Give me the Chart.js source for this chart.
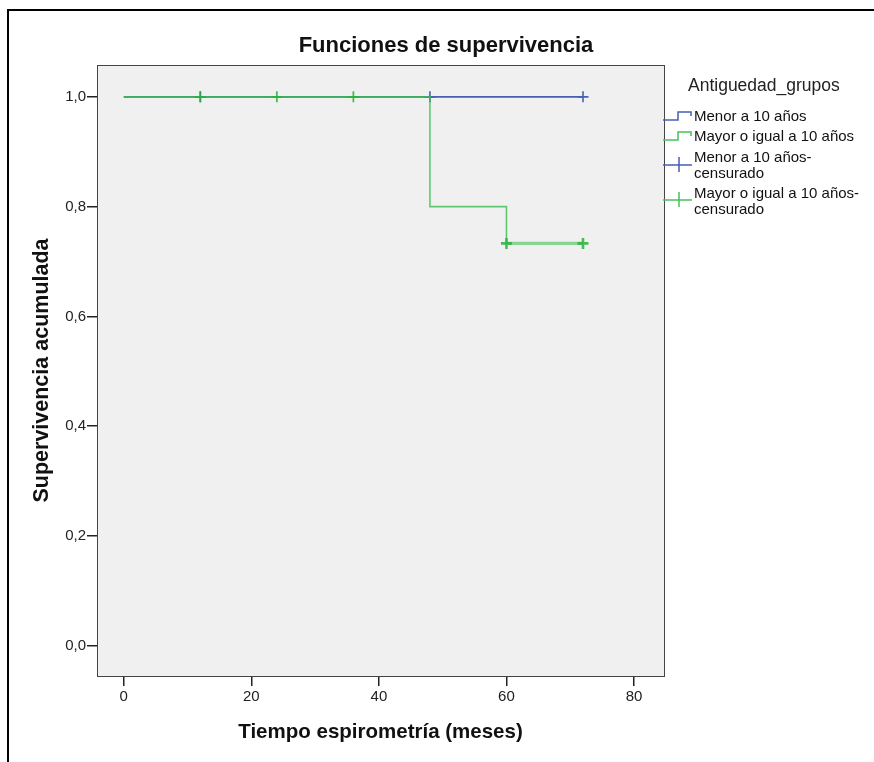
<!DOCTYPE html>
<html>
<head>
<meta charset="utf-8">
<script src="https://cdn.jsdelivr.net/npm/chart.js@4"></script>
<style>
  html, body { margin: 0; padding: 0; background: #fff; }
  #wrap { position: relative; width: 874px; height: 762px; overflow: hidden; }
  #frame { position: absolute; left: 7px; top: 9px; width: 900px; height: 800px;
           border-left: 2px solid #000; border-top: 2px solid #000; }
  canvas { position: absolute; left: 0; top: 0; }
</style>
</head>
<body>
<div id="wrap">
  <div id="frame"></div>
  <canvas id="km" width="874" height="762"></canvas>
</div>
<script>
// ticks
const xTicks = [0, 20, 40, 60, 80];
const yTicks = [0, 0.2, 0.4, 0.6, 0.8, 1.0];

// grupos
const grupos = ['Menor a 10 años', 'Mayor o igual a 10 años'];

// Menor a 10 años
const menorTiempos = [0, 72];
const menorSuperv  = [1.0, 1.0];
const menorCensT   = [12, 48, 72];
const menorCensS   = [1.0, 1.0, 1.0];

// Mayor o igual a 10 años
const mayorTiempos = [0, 48, 60, 72];
const mayorSuperv  = [1.0, 0.8, 0.733, 0.733];
const mayorCensT   = [12, 24, 36, 60, 72];
const mayorCensS   = [1.0, 1.0, 1.0, 0.733, 0.733];

const AZUL  = '#4a5eb2';
const VERDE = '#47c159';
const FONT  = "'Liberation Sans', Arial, sans-serif";

const pts = (xs, ys) => xs.map((x, i) => ({ x: x, y: ys[i] }));

// fondo gris + marco del área de trazado + título + leyenda
const decor = {
  id: 'decor',
  beforeDraw(chart) {
    const { ctx, chartArea: a } = chart;
    ctx.save();
    ctx.fillStyle = '#f0f0f0';
    ctx.fillRect(a.left, a.top, a.right - a.left, a.bottom - a.top);
    ctx.restore();
  },
  afterDraw(chart) {
    const { ctx, chartArea: a } = chart;
    ctx.save();
    ctx.strokeStyle = '#444';
    ctx.lineWidth = 1;
    ctx.strokeRect(a.left + 0.5, a.top + 0.5, a.right - a.left, a.bottom - a.top);

    ctx.fillStyle = '#111';
    ctx.textBaseline = 'middle';
    ctx.textAlign = 'center';
    ctx.font = 'bold 22px ' + FONT;
    ctx.fillText('Funciones de supervivencia', 446, 46);

    // leyenda
    ctx.textAlign = 'left';
    ctx.font = '17.5px ' + FONT;
    ctx.fillStyle = '#222';
    ctx.fillText('Antiguedad_grupos', 688, 86);

    ctx.lineWidth = 1.5;
    const step = (col, y) => {
      ctx.strokeStyle = col;
      ctx.beginPath();
      ctx.moveTo(663, y + 2);
      ctx.lineTo(678, y + 2);
      ctx.lineTo(678, y - 6);
      ctx.lineTo(691, y - 6);
      ctx.lineTo(691, y - 2);
      ctx.stroke();
    };
    const cruz = (col, y) => {
      ctx.strokeStyle = col;
      ctx.beginPath();
      ctx.moveTo(663, y);
      ctx.lineTo(692, y);
      ctx.moveTo(679, y - 8);
      ctx.lineTo(679, y + 7);
      ctx.stroke();
    };
    step(AZUL, 118);
    step(VERDE, 138);
    cruz(AZUL, 165);
    cruz(VERDE, 200);

    ctx.font = '15px ' + FONT;
    ctx.fillStyle = '#111';
    ctx.fillText(grupos[0], 694, 117);
    ctx.fillText(grupos[1], 694, 137);
    ctx.fillText(grupos[0] + '-', 694, 158);
    ctx.fillText('censurado', 694, 174);
    ctx.fillText(grupos[1] + '-', 694, 194);
    ctx.fillText('censurado', 694, 210);
    ctx.restore();
  }
};

new Chart(document.getElementById('km'), {
  type: 'scatter',
  data: {
    datasets: [
      {
        label: grupos[1] + '-censurado', data: pts(mayorCensT, mayorCensS), order: 0,
        pointStyle: 'cross', pointRadius: 5.5,
        borderWidth: c => (c.raw && c.raw.y < 0.75 ? 2.6 : 1.8),
        borderColor: 'rgba(40,178,60,0.85)', showLine: false
      },
      {
        label: grupos[1], data: pts(mayorTiempos, mayorSuperv), order: 1,
        showLine: true, stepped: 'before', borderColor: 'rgba(60,190,80,0.8)',
        borderWidth: 1.6, pointRadius: 0,
        segment: {
          borderWidth: c => (c.p0.parsed.y < 0.75 ? 3.2 : 1.6),
          borderColor: c => (c.p0.parsed.y < 0.75 ? 'rgba(110,205,120,0.8)' : undefined)
        }
      },
      {
        label: grupos[0] + '-censurado', data: pts(menorCensT, menorCensS), order: 2,
        pointStyle: 'cross', pointRadius: 5.5, borderWidth: 1.6,
        borderColor: AZUL, showLine: false
      },
      {
        label: grupos[0], data: pts(menorTiempos, menorSuperv), order: 3,
        showLine: true, stepped: 'before', borderColor: AZUL,
        borderWidth: 1.6, pointRadius: 0
      }
    ]
  },
  options: {
    responsive: false,
    animation: false,
    devicePixelRatio: 1,
    layout: { padding: { top: 65, right: 210, bottom: 0, left: 0 } },
    plugins: {
      legend: { display: false },
      tooltip: { enabled: false }
    },
    scales: {
      x: {
        type: 'linear',
        min: -4.2,
        max: 84.7,
        afterBuildTicks: s => { s.ticks = xTicks.map(v => ({ value: v })); },
        afterFit: s => { s.height = 86; },
        grid: { drawOnChartArea: false, drawTicks: true, tickLength: 10, color: '#222', lineWidth: 1.5 },
        border: { display: true, color: '#444' },
        ticks: { padding: 2, color: '#222', maxRotation: 0, font: { family: FONT, size: 15 } },
        title: {
          display: true, text: 'Tiempo espirometría (meses)', color: '#111',
          font: { family: FONT, size: 20.5, weight: 'bold' }, padding: { top: 0, bottom: 17 }
        }
      },
      y: {
        type: 'linear',
        min: -0.055,
        max: 1.058,
        afterBuildTicks: s => { s.ticks = yTicks.map(v => ({ value: v })); },
        afterFit: s => { s.width = 97; },
        grid: { drawOnChartArea: false, drawTicks: true, tickLength: 10, color: '#222', lineWidth: 1.5 },
        border: { display: true, color: '#444' },
        ticks: {
          padding: 1, color: '#222', font: { family: FONT, size: 15 },
          callback: v => v.toFixed(1).replace('.', ',')
        },
        title: {
          display: true, text: 'Supervivencia acumulada', color: '#111',
          font: { family: FONT, size: 21.5, weight: 'bold' }, padding: { top: 29, bottom: 0 }
        }
      }
    }
  },
  plugins: [decor]
});
</script>
</body>
</html>
